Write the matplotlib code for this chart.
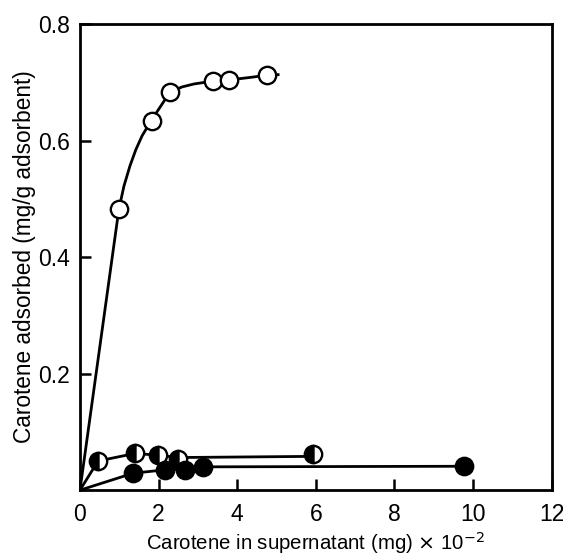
import matplotlib.pyplot as plt

plt.rcParams['font.family'] = ['Liberation Sans', 'DejaVu Sans']

# open circles: adsorbent A
open_x = [0.99, 1.83, 2.29, 3.39, 3.80, 4.76]
open_y = [0.482, 0.633, 0.683, 0.702, 0.703, 0.712]
# smooth curve drawn through the open circles
open_curve_x = [0, 0.99, 1.12, 1.27, 1.42, 1.58, 1.83, 2.29, 2.6, 2.9, 3.39, 3.80, 4.3, 4.76, 5.04]
open_curve_y = [0, 0.482, 0.522, 0.556, 0.584, 0.608, 0.636, 0.683, 0.692, 0.697, 0.702, 0.704, 0.708, 0.712, 0.713]

# half filled circles
half_x = [0.46, 1.40, 1.99, 2.50, 5.94]
half_y = [0.050, 0.063, 0.060, 0.054, 0.062]
half_line_x = [0, 0.46, 1.40, 1.99, 2.50, 5.94]
half_line_y = [0, 0.050, 0.063, 0.060, 0.056, 0.058]

# filled circles
fill_x = [1.35, 2.17, 2.68, 3.13, 9.76]
fill_y = [0.029, 0.035, 0.034, 0.039, 0.041]
fill_line_x = [0, 1.35, 2.17, 2.68, 3.13, 9.76]
fill_line_y = [0, 0.029, 0.035, 0.036, 0.040, 0.041]

fig = plt.figure(figsize=(5.63, 5.57), dpi=100)
ax = fig.add_axes([0.142, 0.120, 0.838, 0.837])

lw = 2.0
ms = 12.5
ax.plot(open_curve_x, open_curve_y, color='black', lw=lw, zorder=2)
ax.plot(half_line_x, half_line_y, color='black', lw=lw, zorder=2)
ax.plot(fill_line_x, fill_line_y, color='black', lw=lw, zorder=2)

ax.plot(open_x, open_y, 'o', ms=ms, mfc='white', mec='black', mew=1.7, ls='none', zorder=3)
ax.plot(half_x, half_y, 'o', ms=ms, fillstyle='left', mfc='black', mfcalt='white',
        mec='black', mew=1.7, ls='none', zorder=3)
ax.plot(fill_x, fill_y, 'o', ms=ms, mfc='black', mec='black', mew=1.7, ls='none', zorder=3)

ax.set_xlim(0, 12)
ax.set_ylim(0, 0.8)
ax.set_xticks([0, 2, 4, 6, 8, 10, 12])
ax.set_xticklabels(['0', '2', '4', '6', '8', '10', '12'])
ax.set_yticks([0.2, 0.4, 0.6, 0.8])
ax.set_yticklabels(['0.2', '0.4', '0.6', '0.8'])
ax.tick_params(direction='in', length=8, width=1.8, labelsize=16.5)
ax.tick_params(axis='x', pad=9)
ax.tick_params(axis='y', pad=7)

for s in ax.spines.values():
    s.set_linewidth(2.0)

ax.set_xlabel('Carotene in supernatant (mg) $\\times$ 10$^{-2}$', fontsize=14.7, labelpad=3)
ax.set_ylabel('Carotene adsorbed (mg/g adsorbent)', fontsize=16.3, labelpad=2)

fig.savefig('out.png', dpi=100)
